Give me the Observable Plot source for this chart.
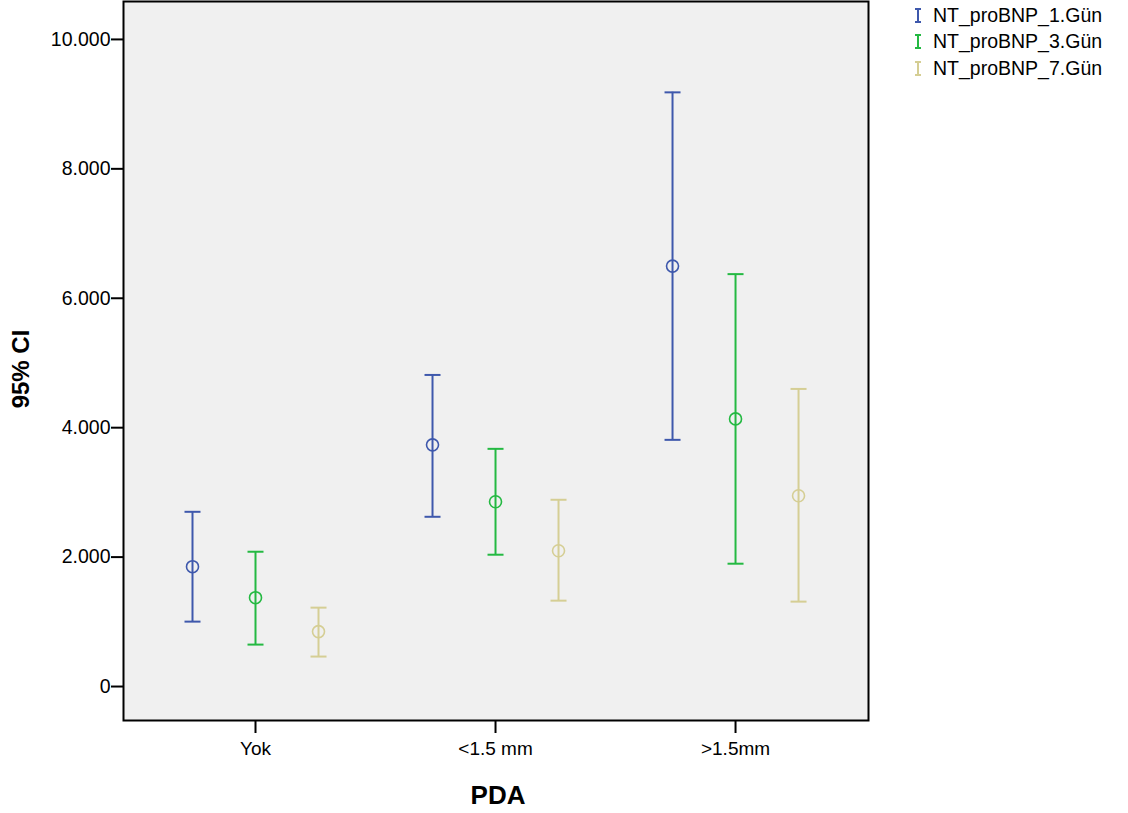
<!DOCTYPE html>
<html>
<head>
<meta charset="utf-8">
<script src="https://cdn.jsdelivr.net/npm/d3@7"></script>
<script src="https://cdn.jsdelivr.net/npm/@observablehq/plot@0.6"></script>
<style>
  html, body { margin: 0; padding: 0; background: #fff; }
  #wrap { position: relative; width: 1128px; height: 813px; font-family: "Liberation Sans", Arial, sans-serif; }
  #legend { position: absolute; left: 914px; top: 2px; font-size: 19.5px; color: #000; }
  #legend .row { height: 26.5px; display: flex; align-items: center; }
  #legend svg { margin-right: 11px; }
</style>
</head>
<body>
<div id="wrap"><div id="legend"></div></div>
<script>
const categories = ["Yok", "<1.5 mm", ">1.5mm"];
const series = ["NT_proBNP_1.Gün", "NT_proBNP_3.Gün", "NT_proBNP_7.Gün"];
const colors = ["#3e58ac", "#24b942", "#d5ce94"];
// per series: values for each category
const means = [[1852, 3735, 6497], [1373, 2855, 4136], [849, 2099, 2948]];
const lows  = [[1003, 2623, 3812], [648, 2037, 1898], [463, 1327, 1312]];
const highs = [[2700, 4815, 9182], [2083, 3673, 6373], [1219, 2886, 4599]];
const yTicks = [0, 2000, 4000, 6000, 8000, 10000];
const seriesOffset = [-0.2625, 0, 0.2625];

const rows = [];
categories.forEach((c, i) => {
  series.forEach((s, j) => {
    rows.push({cat: c, series: s, x: i + seriesOffset[j], mean: means[j][i], lo: lows[j][i], hi: highs[j][i]});
  });
});

const capSymbol = {
  draw(context, size) {
    const w = Math.sqrt(size / Math.PI);
    context.moveTo(-w, 0);
    context.lineTo(w, 0);
  }
};

const fmt = d => d3.format(",")(d).replace(/,/g, ".");

const chart = Plot.plot({
  width: 1128,
  height: 813,
  marginLeft: 123,
  marginTop: 1,
  marginRight: 260,
  marginBottom: 93,
  style: {fontFamily: "'Liberation Sans', Arial, sans-serif", color: "#000", background: "transparent"},
  x: {domain: [-0.55, 2.554]},
  y: {domain: [-525, 10586]},
  color: {domain: series, range: colors},
  marks: [
    Plot.frame({fill: "#f0f0f0"}),
    Plot.ruleX(rows, {x: "x", y1: "lo", y2: "hi", stroke: "series", strokeWidth: 2}),
    Plot.dot(rows, {x: "x", y: "lo", stroke: "series", symbol: capSymbol, r: 8, strokeWidth: 2}),
    Plot.dot(rows, {x: "x", y: "hi", stroke: "series", symbol: capSymbol, r: 8, strokeWidth: 2}),
    Plot.dot(rows, {x: "x", y: "mean", stroke: "series", r: 6, strokeWidth: 1.6, fill: "none"}),
    Plot.frame({stroke: "#000", strokeWidth: 2}),
    Plot.axisY({ticks: yTicks, tickFormat: fmt, tickSize: 12, tickPadding: 1, strokeWidth: 2, fontSize: 19.5, label: null}),
    Plot.axisX({ticks: [0, 1, 2], tickFormat: i => categories[i], tickSize: 13, tickPadding: 8, strokeWidth: 2, fontSize: 19, label: null}),
    Plot.text(["95% CI"], {frameAnchor: "left", dx: -102, dy: 8, rotate: -90, textAnchor: "middle", fontSize: 24, fontWeight: "bold", fill: "#000"}),
    Plot.text(["PDA"], {frameAnchor: "bottom", dx: 2, dy: 75, lineAnchor: "middle", fontSize: 26, fontWeight: "bold", fill: "#000"})
  ]
});
document.getElementById("wrap").prepend(chart);

const legend = document.getElementById("legend");
series.forEach((s, j) => {
  const row = document.createElement("div");
  row.className = "row";
  row.innerHTML = `<svg width="8" height="15"><path d="M1,1H7M4,1V14M1,14H7" stroke="${colors[j]}" stroke-width="2" fill="none"/></svg><span>${s}</span>`;
  legend.appendChild(row);
});
</script>
</body>
</html>
